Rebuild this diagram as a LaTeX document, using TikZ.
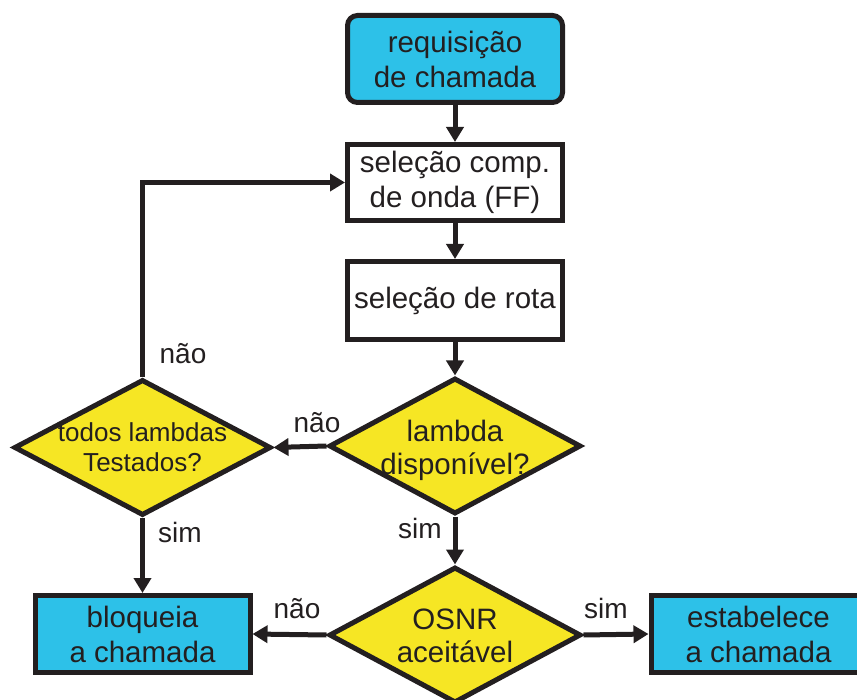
\documentclass[tikz,border=0pt]{standalone}
\usepackage{fontspec}
\setmainfont{Liberation Sans}
\usetikzlibrary{shapes.geometric,arrows.meta}
\definecolor{boxcyan}{RGB}{45,193,232}
\definecolor{decyellow}{RGB}{246,230,36}
\definecolor{ink}{RGB}{35,31,32}
\begin{document}
\begin{tikzpicture}[x=1pt,y=-1pt,
  every node/.style={text=ink},
  box/.style={draw=ink, line width=5pt, minimum width=215pt, minimum height=77pt, inner sep=0pt, align=center, font=\fontsize{29.5}{35}\selectfont},
  startbox/.style={box, fill=boxcyan, rounded corners=10pt},
  endbox/.style={box, fill=boxcyan},
  plainbox/.style={box, fill=white},
  dec/.style={draw=ink, fill=decyellow, line width=5pt, shape=diamond, inner sep=0pt, minimum width=252pt, minimum height=136pt},
  dectext/.style={align=center, font=\fontsize{29.5}{33}\selectfont, text=ink},
  smalldectext/.style={align=center, font=\fontsize{26}{30}\selectfont, text=ink},
  arr/.style={draw=ink, line width=5pt, -{Triangle[length=15pt,width=17pt]}},
  lbl/.style={font=\fontsize{28}{33}\selectfont, anchor=base}
]
\clip (0,0) rectangle (857,700);
\node[startbox, minimum height=87pt] (b1) at (455,59) {requisição\\de chamada};
\node[plainbox, minimum height=76pt] (b2) at (455,182.5) {seleção comp.\\de onda (FF)};
\node[plainbox, minimum height=78pt] (b3) at (455,300.5) {seleção de rota};
\node[dec, label={[dectext, yshift=-4pt]center:lambda\\disponível?}] (d1) at (455,446) {};
\node[dec, minimum width=257pt, label={[smalldectext]center:todos lambdas\\Testados?}] (d2) at (142.5,447.5) {};
\node[dec, label={[dectext, yshift=-1pt]center:OSNR\\aceitável}] (d3) at (455,635) {};
\node[endbox] (b4) at (142.5,634) {bloqueia\\a chamada};
\node[endbox] (b5) at (758.5,634) {estabelece\\a chamada};

\draw[arr] (b1.south) -- (b2.north);
\draw[arr] (b2.south) -- (b3.north);
\draw[arr] (b3.south) -- (d1.north);
\draw[arr] (d1.west) -- (d2.east);
\draw[arr] (d1.south) -- (d3.north);
\draw[arr] (d2.south) -- (b4.north);
\draw[arr] (d2.north) |- (b2.west);
\draw[arr] (d3.west) -- (b4.east);
\draw[arr] (d3.east) -- (b5.west);

\node[lbl] (l1) at (183,364) {não};
\node[lbl] (l2) at (317,432) {não};
\node[lbl] (l3) at (180,542) {sim};
\node[lbl] (l4) at (420,538) {sim};
\node[lbl] (l5) at (297,618) {não};
\node[lbl] (l6) at (606,618) {sim};
\end{tikzpicture}
\end{document}
